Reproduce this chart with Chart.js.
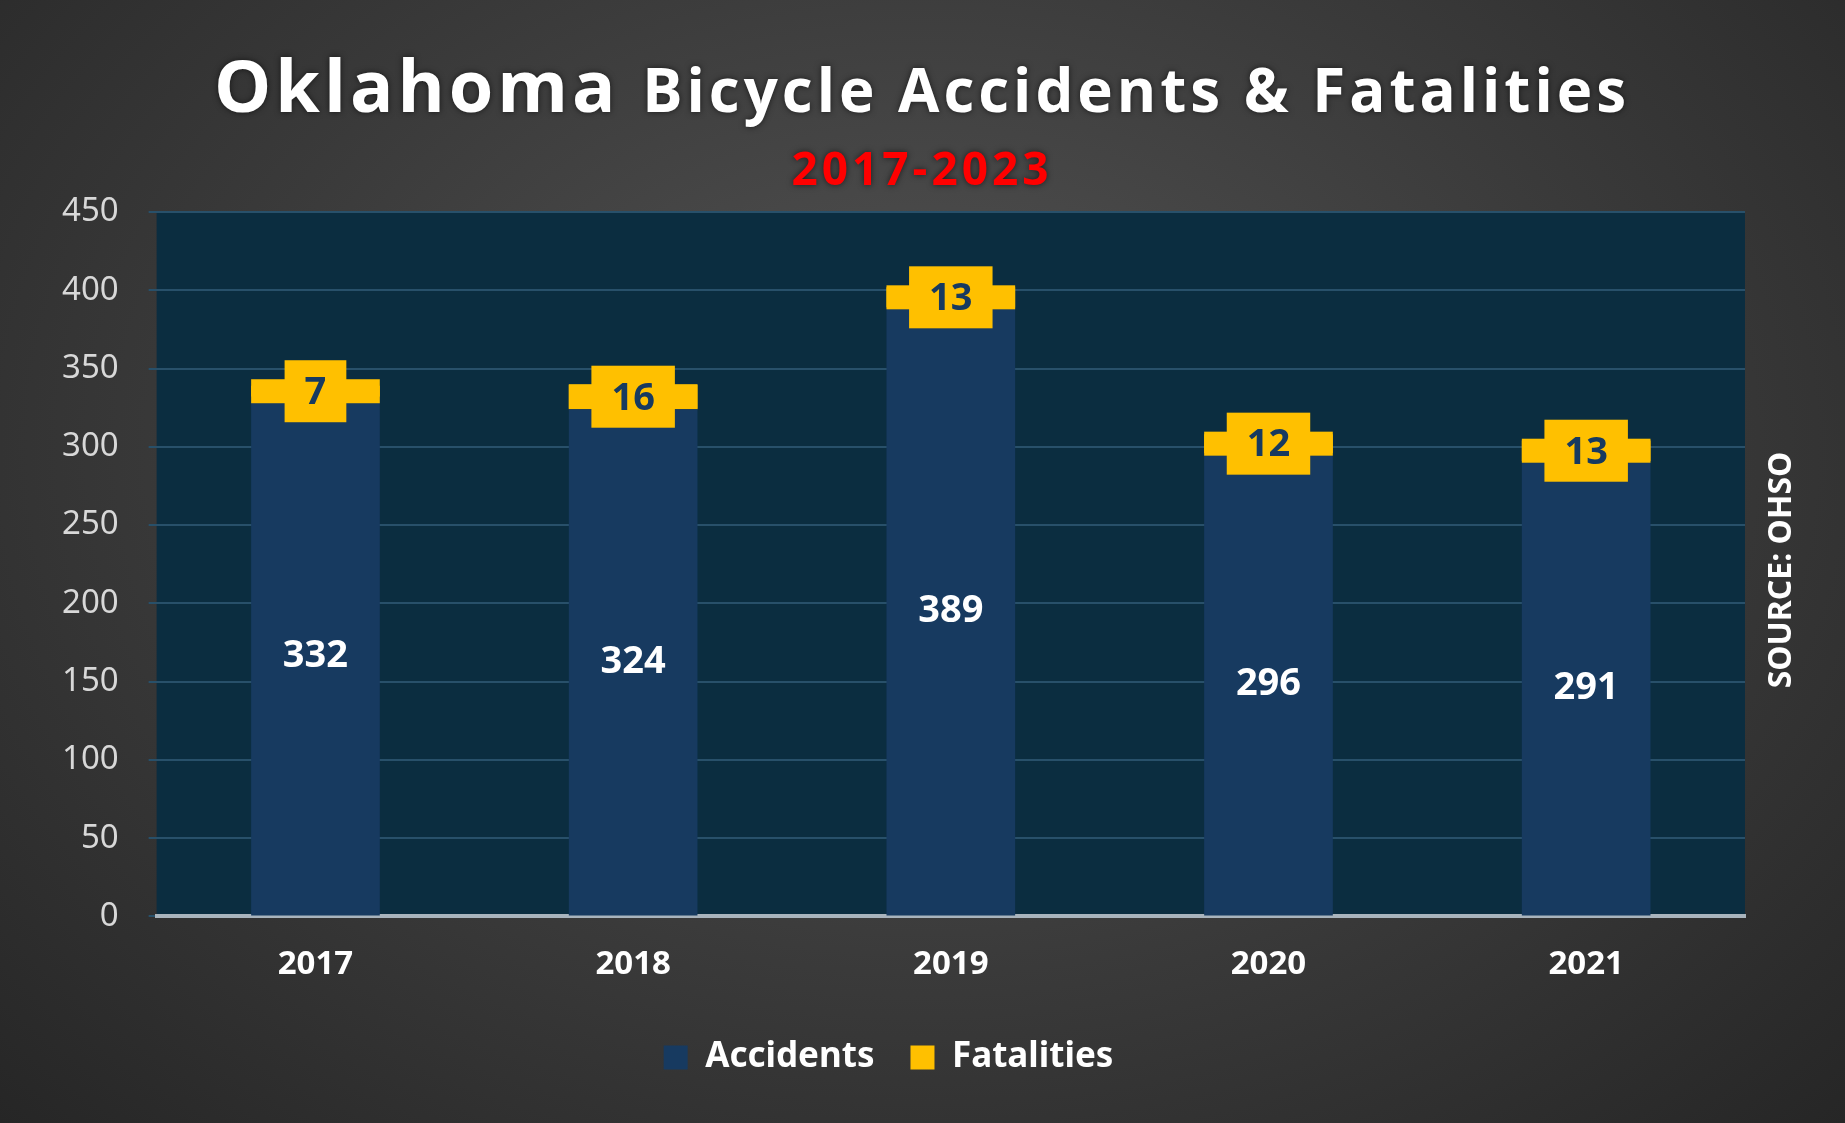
<!DOCTYPE html>
<html>
<head>
<meta charset="utf-8">
<script src="https://cdn.jsdelivr.net/npm/chart.js@4"></script>
<style>
  html, body { margin: 0; padding: 0; }
  body { width: 1845px; height: 1123px; background: radial-gradient(ellipse at 50% 40%, #545454 0%, #3a3a3a 55%, #262626 100%); }
  #wrap { position: absolute; left: 0; top: 0; width: 1845px; height: 1123px; }
</style>
</head>
<body>
<div id="wrap"><canvas id="chart"></canvas></div>
<script>
const years = ["2017", "2018", "2019", "2020", "2021"];
const accidents = [332, 324, 389, 296, 291];
const fatalities = [7, 16, 13, 12, 13];
const yTicks = [0, 50, 100, 150, 200, 250, 300, 350, 400, 450];

const navy = "#173a60";
const gold = "#ffc000";

// plot background + title + source text + labels
const decor = {
  id: "decor",
  beforeDraw(chart) {
    const { ctx, chartArea: a } = chart;
    ctx.save();
    ctx.fillStyle = "#0b2d40";
    ctx.fillRect(a.left, a.top, a.right - a.left, a.bottom - a.top);
    ctx.restore();
  },
  afterDraw(chart) {
    const { ctx, chartArea: a } = chart;
    ctx.save();
    // title
    ctx.fillStyle = "#ffffff";
    ctx.textBaseline = "alphabetic";
    const big = "bold 72px 'Open Sans', sans-serif";
    const small = "bold 60px 'Open Sans', sans-serif";
    ctx.letterSpacing = "4px";
    ctx.font = big;
    const w1 = ctx.measureText("Oklahoma ").width;
    ctx.font = small;
    const w2 = ctx.measureText("Bicycle Accidents & Fatalities").width;
    let x = 922 - (w1 + w2) / 2;
    ctx.shadowColor = "rgba(0,0,0,0.6)";
    ctx.shadowBlur = 6;
    ctx.font = big;
    ctx.fillText("Oklahoma ", x, 112);
    ctx.font = small;
    ctx.fillText("Bicycle Accidents & Fatalities", x + w1, 112);
    ctx.textAlign = "center";
    ctx.fillStyle = "#ff0000";
    ctx.font = "bold 46px 'Open Sans', sans-serif";
    ctx.fillText("2017-2023", 922, 185);
    ctx.shadowBlur = 0;
    ctx.letterSpacing = "0px";
    // source
    ctx.translate(1782, 570);
    ctx.rotate(-Math.PI / 2);
    ctx.fillStyle = "#ffffff";
    ctx.font = "bold 32px 'Noto Sans', sans-serif";
    ctx.textBaseline = "middle";
    ctx.fillText("SOURCE: OHSO", 0, 0);
    ctx.restore();

    // value labels
    const m0 = chart.getDatasetMeta(0);
    const m1 = chart.getDatasetMeta(1);
    ctx.save();
    ctx.textAlign = "center";
    ctx.textBaseline = "middle";
    ctx.font = "bold 38px 'Noto Sans', sans-serif";
    m0.data.forEach((bar, i) => {
      ctx.fillStyle = "#ffffff";
      ctx.fillText(accidents[i], bar.x, (bar.y + bar.base) / 2);
    });
    m1.data.forEach((bar, i) => {
      const cy = (bar.y + bar.base) / 2;
      const t = String(fatalities[i]);
      const bw = ctx.measureText(t).width + 40;
      ctx.fillStyle = gold;
      ctx.fillRect(bar.x - bw / 2, cy - 31, bw, 62);
      ctx.fillRect(bar.x - bar.width / 2, cy - 12, bar.width, 24);
      ctx.fillStyle = navy;
      ctx.fillText(t, bar.x, cy + 2);
    });
    ctx.restore();
  }
};

new Chart(document.getElementById("chart"), {
  type: "bar",
  data: {
    labels: years,
    datasets: [
      { label: "Accidents", data: accidents, backgroundColor: navy },
      { label: "Fatalities", data: fatalities, backgroundColor: gold }
    ]
  },
  options: {
    responsive: true,
    maintainAspectRatio: false,
    animation: false,
    datasets: { bar: { barPercentage: 0.405, categoryPercentage: 1 } },
    layout: { padding: { top: 212, left: 32, right: 100, bottom: 38 } },
    scales: {
      x: {
        stacked: true,
        grid: { display: false },
        border: { color: "#a9b4bd", width: 4 },
        ticks: { color: "#ffffff", font: { size: 33, weight: "bold", family: "'Noto Sans', sans-serif" }, padding: 20 }
      },
      y: {
        stacked: true,
        min: 0,
        max: 450,
        afterBuildTicks(axis) { axis.ticks = yTicks.map(v => ({ value: v })); },
        grid: { color: "#28506a", lineWidth: 2 },
        border: { display: false },
        ticks: { color: "#d8d8d8", font: { size: 33, family: "'Noto Sans', sans-serif" }, padding: 30 }
      }
    },
    plugins: {
      legend: {
        position: "bottom",
        labels: { color: "#ffffff", boxWidth: 24, boxHeight: 24, padding: 36, font: { size: 35, weight: "bold", family: "'Noto Sans', sans-serif" } }
      },
      tooltip: { enabled: false }
    }
  },
  plugins: [decor]
});
</script>
</body>
</html>
